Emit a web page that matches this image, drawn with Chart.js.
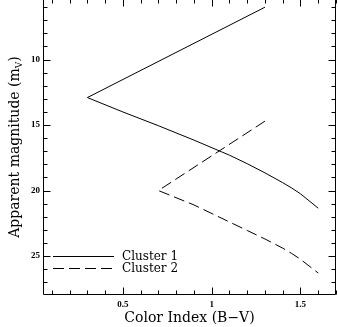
<!DOCTYPE html>
<html>
<head>
<meta charset="utf-8">
<script src="https://cdn.jsdelivr.net/npm/chart.js@4.4.1/dist/chart.umd.min.js"></script>
<style>
  html, body { margin: 0; padding: 0; background: #fff; }
  #wrap { width: 338px; height: 327px; }
</style>
</head>
<body>
<div id="wrap"><canvas id="myChart" width="338" height="327"></canvas></div>
<script>
// Cluster 1 : (B-V, m_V)
var cluster1X = [1.3, 0.3, 0.5, 0.7, 0.9, 1.1, 1.2, 1.3, 1.4, 1.45, 1.5, 1.6];
var cluster1Y = [6.0, 12.9, 14.0, 15.05, 16.15, 17.3, 17.95, 18.65, 19.4, 19.8, 20.25, 21.35];

// Cluster 2
var cluster2X = [1.3, 0.7, 0.9, 1.1, 1.2, 1.3, 1.4, 1.45, 1.5, 1.6];
var cluster2Y = [14.7, 20.0, 21.1, 22.4, 23.05, 23.7, 24.4, 24.8, 25.25, 26.3];

var seriesNames = ["Cluster 1", "Cluster 2"];

// etichette degli assi
var xTicks = [0.5, 1, 1.5];
var yTicks = [10, 15, 20, 25];
var xTitle = "Color Index (B\u2212V)";
var yTitle = "Apparent magnitude (m";
var yTitleSub = "V";

function punti(xs, ys) {
  var out = [];
  for (var i = 0; i < xs.length; i++) {
    out.push({ x: xs[i], y: ys[i] });
  }
  return out;
}

var tickFont = { family: "'Liberation Serif', serif", size: 9, weight: "bold" };
var titleFont = "14px 'DejaVu Serif', serif";
var legendFont = "12px 'DejaVu Serif', serif";

// cornice, tacche interne, titoli e legenda
var cornice = {
  id: "cornice",
  afterDraw: function (chart) {
    var ctx = chart.ctx;
    var a = chart.chartArea;
    var xs = chart.scales.x;
    var ys = chart.scales.y;
    var L = Math.round(a.left) + 0.5;
    var R = Math.round(a.right) - 0.5;
    var T = Math.round(a.top) - 0.5;
    var B = Math.round(a.bottom) + 0.5;

    ctx.save();
    ctx.strokeStyle = "#000";
    ctx.lineWidth = 1;
    ctx.beginPath();
    ctx.moveTo(L, T); ctx.lineTo(L, B); ctx.lineTo(R, B); ctx.lineTo(R, T); ctx.lineTo(L, T);
    ctx.stroke();

    // tacche asse x (ogni 0.1, maggiori ogni 0.5)
    ctx.beginPath();
    for (var k = 1; k <= 17; k++) {
      var v = k / 10;
      if (v < xs.min || v > xs.max) continue;
      var px = Math.round(xs.getPixelForValue(v)) + 0.5;
      var len = (k % 5 == 0) ? 7 : 4;
      ctx.moveTo(px, B); ctx.lineTo(px, B - len);
      ctx.moveTo(px, T); ctx.lineTo(px, T + len);
    }
    // tacche asse y (ogni 1, maggiori ogni 5)
    for (var m = 6; m <= 27; m++) {
      var py = Math.round(ys.getPixelForValue(m)) + 0.5;
      var len2 = (m % 5 == 0) ? 7 : 4;
      ctx.moveTo(L, py); ctx.lineTo(L + len2, py);
      ctx.moveTo(R, py); ctx.lineTo(R - len2, py);
    }
    ctx.stroke();

    // titolo asse x
    ctx.fillStyle = "#000";
    ctx.font = titleFont;
    ctx.textAlign = "center";
    ctx.textBaseline = "alphabetic";
    ctx.fillText(xTitle, (a.left + a.right) / 2, 322);

    // titolo asse y con pedice
    ctx.save();
    ctx.translate(19, 147);
    ctx.rotate(-Math.PI / 2);
    ctx.textAlign = "left";
    var subFont = "9px 'DejaVu Serif', serif";
    ctx.font = titleFont;
    var w1 = ctx.measureText(yTitle).width;
    var w3 = ctx.measureText(")").width;
    ctx.font = subFont;
    var w2 = ctx.measureText(yTitleSub).width;
    var x0 = -(w1 + w2 + w3) / 2;
    ctx.font = titleFont;
    ctx.fillText(yTitle, x0, 0);
    ctx.font = subFont;
    ctx.fillText(yTitleSub, x0 + w1, 3);
    ctx.font = titleFont;
    ctx.fillText(")", x0 + w1 + w2, 0);
    ctx.restore();

    // legenda
    var ds = chart.data.datasets;
    for (var i = 0; i < ds.length; i++) {
      var ly = 256.5 + i * 12;
      ctx.beginPath();
      ctx.setLineDash(ds[i].borderDash || []);
      ctx.moveTo(53, ly);
      ctx.lineTo(114, ly);
      ctx.stroke();
      ctx.setLineDash([]);
      ctx.font = legendFont;
      ctx.textAlign = "left";
      ctx.textBaseline = "middle";
      ctx.fillText(ds[i].label, 122, ly);
    }
    ctx.restore();
  }
};

var ctx = document.getElementById("myChart").getContext("2d");
var myChart = new Chart(ctx, {
  type: "scatter",
  data: {
    datasets: [{
      label: seriesNames[0],
      data: punti(cluster1X, cluster1Y),
      showLine: true,
      borderColor: "#000",
      borderWidth: 1,
      pointRadius: 0,
      tension: 0
    }, {
      label: seriesNames[1],
      data: punti(cluster2X, cluster2Y),
      showLine: true,
      borderColor: "#000",
      borderWidth: 1,
      borderDash: [11, 5],
      pointRadius: 0,
      tension: 0
    }]
  },
  options: {
    responsive: false,
    animation: false,
    layout: { padding: { top: 0, right: 2, bottom: 0, left: 0 } },
    plugins: { legend: { display: false }, tooltip: { enabled: false } },
    scales: {
      x: {
        type: "linear",
        min: 0.05,
        max: 1.7,
        grid: { display: false, drawTicks: false },
        border: { display: false },
        ticks: {
          color: "#000",
          font: tickFont,
          padding: 5,
          maxRotation: 0,
          callback: function (v) { return String(v); }
        },
        afterBuildTicks: function (s) {
          s.ticks = xTicks.map(function (v) { return { value: v }; });
        },
        afterFit: function (s) {
          s.height = 33;
          s.paddingLeft = 0;
          s.paddingRight = 0;
        }
      },
      y: {
        type: "linear",
        reverse: true,
        min: 5.45,
        max: 27.9,
        grid: { display: false, drawTicks: false },
        border: { display: false },
        ticks: {
          color: "#000",
          font: tickFont,
          padding: 3,
          callback: function (v) { return String(v); }
        },
        afterBuildTicks: function (s) {
          s.ticks = yTicks.map(function (v) { return { value: v }; });
        },
        afterFit: function (s) {
          s.width = 43;
          s.paddingTop = 0;
          s.paddingBottom = 0;
        }
      }
    }
  },
  plugins: [cornice]
});
</script>
</body>
</html>
